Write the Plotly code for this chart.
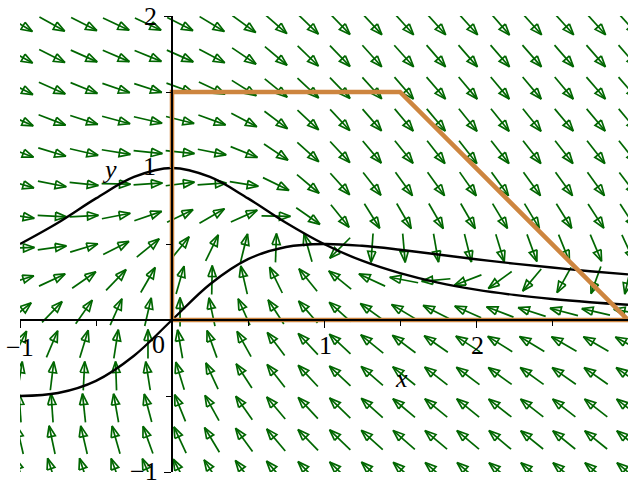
import math
import plotly.graph_objects as go

# ---------------- data ----------------
# direction-field grid (data coordinates)
GRID_X = [-1.0, -0.789, -0.579, -0.368, -0.158, 0.053, 0.263, 0.474, 0.684, 0.895,
          1.105, 1.316, 1.526, 1.737, 1.947, 2.158, 2.368, 2.579, 2.789, 3.0]
GRID_Y = [-1.0, -0.789, -0.579, -0.368, -0.158, 0.053, 0.263, 0.474, 0.684, 0.895,
          1.105, 1.316, 1.526, 1.737, 1.947]

# arrow directions (degrees, counter-clockwise from +x); one row per GRID_Y value
ARROW_ANGLES = [
    [108, 108, 108, 110, 113, 118, 123, 127, 131, 134, 136, 137, 138, 139, 139, 140, 140, 140, 140, 140],
    [103, 102, 103, 106, 110, 115, 121, 126, 130, 134, 136, 138, 139, 140, 140, 140, 141, 141, 141, 141],
    [94, 94, 96, 100, 105, 112, 119, 125, 130, 133, 136, 138, 140, 141, 141, 142, 142, 142, 142, 142],
    [81, 83, 87, 92, 99, 107, 115, 123, 128, 133, 137, 139, 141, 142, 143, 144, 144, 145, 145, 145],
    [63, 67, 73, 81, 90, 100, 110, 119, 127, 133, 137, 141, 143, 145, 147, 148, 149, 150, 150, 151],
    [39, 46, 55, 66, 77, 90, 102, 114, 123, 131, 138, 144, 149, 153, 156, 159, 162, 165, 167, 169],
    [17, 25, 35, 46, 60, 74, 89, 103, 116, 129, 141, 155, 169, -175, -159, -144, -130, -119, -110, -103],
    [2, 8, 17, 27, 39, 51, 64, 76, 88, 106, -135, -94, -85, -80, -76, -73, -70, -68, -67, -65],
    [-9, -3, 3, 11, 19, 26, 30, 24, -1, -35, -51, -58, -60, -60, -60, -59, -59, -58, -57, -57],
    [-16, -11, -6, -1, 4, 7, 4, -9, -26, -40, -48, -52, -54, -54, -55, -54, -54, -54, -54, -53],
    [-21, -17, -13, -9, -6, -6, -11, -22, -34, -42, -47, -50, -51, -52, -52, -52, -52, -52, -52, -51],
    [-24, -21, -18, -15, -13, -14, -20, -28, -37, -43, -47, -49, -50, -50, -51, -51, -51, -50, -50, -50],
    [-27, -24, -22, -19, -18, -20, -25, -32, -39, -43, -46, -48, -49, -49, -50, -50, -50, -50, -49, -49],
    [-29, -27, -24, -23, -22, -24, -28, -34, -40, -44, -46, -48, -48, -49, -49, -49, -49, -49, -49, -49],
    [-31, -29, -27, -25, -25, -27, -31, -36, -41, -44, -46, -47, -48, -48, -48, -49, -48, -48, -48, -48],
]

# black curves
CURVE_X = [-1, -0.75, -0.5, -0.25, 0, 0.25, 0.5, 0.75, 1, 1.25, 1.5, 1.75, 2, 2.25, 2.5, 2.75, 3]
CURVE_A_Y = [0.5, 0.64, 0.8, 0.941, 1, 0.941, 0.8, 0.64, 0.5, 0.39, 0.308, 0.246, 0.2, 0.165, 0.138, 0.117, 0.1]
CURVE_B_Y = [-0.5, -0.48, -0.4, -0.235, 0, 0.235, 0.4, 0.48, 0.5, 0.488, 0.462, 0.431, 0.4, 0.371, 0.345, 0.321, 0.3]

# orange region
REGION_X = [0, 0, 1.5, 3, 0]
REGION_Y = [0, 1.5, 1.5, 0, 0]

X_TICK_LABELS = ["\u22121", "0", "1", "2"]
Y_TICK_LABELS = ["\u22121", "1", "2"]
X_LABEL = "x"
Y_LABEL = "y"

# ---------------- styling ----------------
ARROW_COLOR = "rgb(0,102,0)"
ARROW_LEN = 0.19
HEAD_LEN = 0.072
HEAD_HALF = 0.027

ax_pts, ay_pts = [], []
for j, gy in enumerate(GRID_Y):
    for i, gx in enumerate(GRID_X):
        a = math.radians(ARROW_ANGLES[j][i])
        dx, dy = math.cos(a), math.sin(a)
        px, py = -dy, dx
        tx, ty = gx - dx * ARROW_LEN / 2, gy - dy * ARROW_LEN / 2
        hx, hy = gx + dx * ARROW_LEN / 2, gy + dy * ARROW_LEN / 2
        bx, by = hx - dx * HEAD_LEN, hy - dy * HEAD_LEN
        c1 = (bx + px * HEAD_HALF, by + py * HEAD_HALF)
        c2 = (bx - px * HEAD_HALF, by - py * HEAD_HALF)
        ax_pts += [tx, hx, None, c1[0], hx, c2[0], c1[0], None]
        ay_pts += [ty, hy, None, c1[1], hy, c2[1], c1[1], None]

fig = go.Figure()
fig.add_trace(go.Scatter(x=ax_pts, y=ay_pts, mode="lines",
                         line=dict(color=ARROW_COLOR, width=1.7),
                         hoverinfo="skip", showlegend=False))
fig.add_trace(go.Scatter(x=CURVE_X, y=CURVE_A_Y, mode="lines",
                         line=dict(color="black", width=2.4, shape="spline", smoothing=1.0),
                         showlegend=False))
fig.add_trace(go.Scatter(x=CURVE_X, y=CURVE_B_Y, mode="lines",
                         line=dict(color="black", width=2.4, shape="spline", smoothing=1.0),
                         showlegend=False))
fig.add_trace(go.Scatter(x=REGION_X, y=REGION_Y, mode="lines",
                         line=dict(color="#CD853F", width=4.5),
                         showlegend=False))

FONT = dict(family="Liberation Serif, Times New Roman, serif", size=26, color="black")

annots = []
x_lab_pos = [(-1.0, -0.178), (-0.086, -0.164), (1.007, -0.171), (2.007, -0.171)]
for t, (x, y) in zip(X_TICK_LABELS, x_lab_pos):
    annots.append(dict(x=x, y=y, xref="x", yref="y", text=t, showarrow=False,
                       xanchor="center", yanchor="middle", font=FONT))
y_lab_pos = [(-0.184, -1.0, 1), (-0.151, 1.007, 0), (-0.141, 2.0, 0)]
for t, (x, y, ys) in zip(Y_TICK_LABELS, y_lab_pos):
    annots.append(dict(x=x, y=y, xref="x", yref="y", text=t, showarrow=False,
                       xanchor="center", yanchor="middle", yshift=ys, font=FONT))
annots.append(dict(x=1.513, y=-0.382, xref="x", yref="y", text="<i>" + X_LABEL + "</i>",
                   showarrow=False, xanchor="center", yanchor="middle", font=FONT))
annots.append(dict(x=-0.414, y=0.987, xref="x", yref="y", text="<i>" + Y_LABEL + "</i>",
                   showarrow=False, xanchor="center", yanchor="middle", font=FONT))

fig.update_layout(
    width=628, height=483,
    margin=dict(l=20, r=0, t=16, b=11, autoexpand=False),
    paper_bgcolor="white", plot_bgcolor="white",
    showlegend=False,
    annotations=annots,
    xaxis=dict(range=[-1, 3], showgrid=False, zeroline=False, showline=True,
               linecolor="black", linewidth=1.5, anchor="free", position=1/3,
               automargin=False,
               ticks="outside", tick0=-1, dtick=1, ticklen=7, tickwidth=1.3,
               tickcolor="black", showticklabels=False,
               minor=dict(ticks="outside", tick0=-1, dtick=0.5, ticklen=5,
                          tickwidth=1.3, tickcolor="black")),
    yaxis=dict(range=[-1, 2], showgrid=False, zeroline=False, showline=True,
               linecolor="black", linewidth=1.5, anchor="free", position=0.25,
               automargin=False,
               ticks="outside", tick0=-1, dtick=1, ticklen=7, tickwidth=1.3,
               tickcolor="black", showticklabels=False,
               minor=dict(ticks="outside", tick0=-1, dtick=0.5, ticklen=5,
                          tickwidth=1.3, tickcolor="black")),
)

fig.write_html("out.html", config={"displayModeBar": False},
               post_script="document.body.style.margin='0px';document.body.style.overflow='hidden';")
